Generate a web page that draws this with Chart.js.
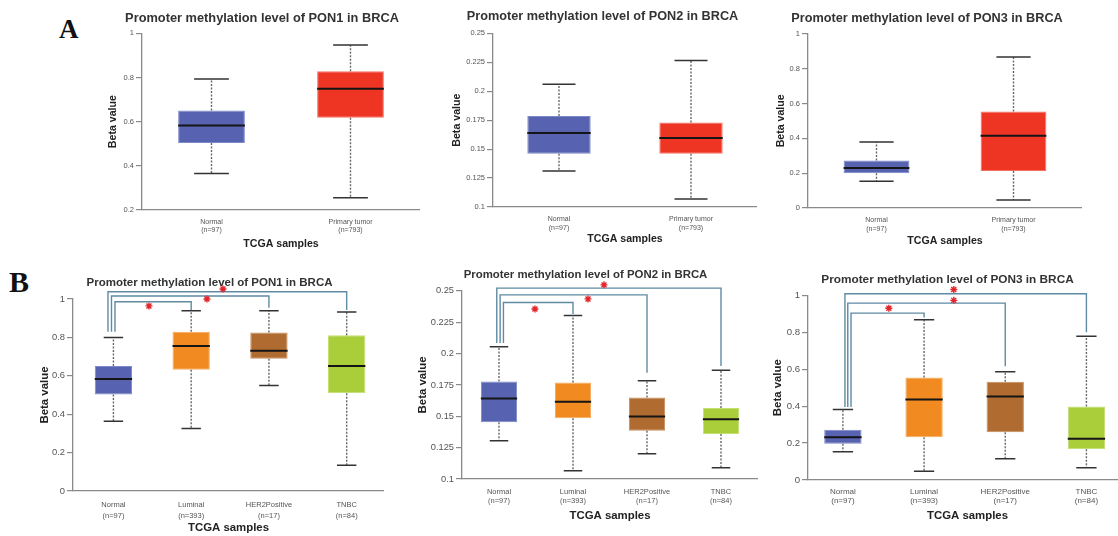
<!DOCTYPE html>
<html>
<head>
<meta charset="utf-8">
<script src="https://cdn.jsdelivr.net/npm/chart.js@4.4.1/dist/chart.umd.min.js"></script>
<style>
html, body { margin: 0; padding: 0; background: #fff; }
body { position: relative; width: 1118px; height: 536px; overflow: hidden; }
canvas { position: absolute; }
.tag { position: absolute; font-family: "Liberation Serif", "Times New Roman", serif; font-weight: bold; color: #111; line-height: 1; }
</style>
</head>
<body>
<div class="tag" style="left:59px;top:16px;font-size:27px">A</div>
<div class="tag" style="left:9px;top:267px;font-size:30px">B</div>
<canvas id="a1"></canvas>
<canvas id="a2"></canvas>
<canvas id="a3"></canvas>
<canvas id="b1"></canvas>
<canvas id="b2"></canvas>
<canvas id="b3"></canvas>
<script>
// groups and sample sizes
var groupsA = ['Normal', 'Primary tumor'];
var countsA = ['(n=97)', '(n=793)'];
var groupsB = ['Normal', 'Luminal', 'HER2Positive', 'TNBC'];
var countsB = ['(n=97)', '(n=393)', '(n=17)', '(n=84)'];

// box stats per group: [min, q1, median, q3, max]
var pon1A = [[0.365, 0.503, 0.582, 0.650, 0.793], [0.256, 0.617, 0.749, 0.828, 0.947]];
var pon2A = [[0.131, 0.146, 0.164, 0.1785, 0.206], [0.107, 0.146, 0.1597, 0.173, 0.2266]];
var pon3A = [[0.153, 0.199, 0.229, 0.272, 0.379], [0.046, 0.212, 0.415, 0.554, 0.866]];
var pon1B = [[0.363, 0.503, 0.583, 0.651, 0.799], [0.325, 0.632, 0.755, 0.830, 0.939],
             [0.549, 0.689, 0.731, 0.825, 0.939], [0.134, 0.509, 0.651, 0.811, 0.932]];
var pon2B = [[0.1305, 0.1453, 0.1641, 0.1777, 0.2055], [0.1066, 0.1485, 0.1615, 0.1769, 0.2304],
             [0.1201, 0.1384, 0.1498, 0.1649, 0.1784], [0.1090, 0.1358, 0.1477, 0.1567, 0.1867]];
var pon3B = [[0.153, 0.196, 0.231, 0.272, 0.382], [0.047, 0.232, 0.436, 0.555, 0.868],
             [0.115, 0.258, 0.452, 0.532, 0.586], [0.067, 0.166, 0.223, 0.398, 0.778]];

// y tick labels
var ticks1A = [0.2, 0.4, 0.6, 0.8, 1];
var ticks2 = [0.1, 0.125, 0.15, 0.175, 0.2, 0.225, 0.25];
var ticks01 = [0, 0.2, 0.4, 0.6, 0.8, 1];

// significance brackets Normal vs Luminal / HER2Positive / TNBC
var sig1Top = [0.986, 1.016, 1.038], sig1Drop = [0.943, 0.955, 0.943], sig1Base = [0.83, 0.83, 0.83];
var star1X = [0.457, 1.203, 1.409], star1Y = [0.964, 1.0, 1.052];
var sig2Top = [0.2407, 0.2468, 0.2522], sig2Drop = [0.2316, 0.1848, 0.1902], sig2Base = [0.2085, 0.2085, 0.2085];
var star2X = [0.486, 1.203, 1.419], star2Y = [0.2356, 0.2436, 0.2548];
var sig3Top = [0.904, 0.958, 1.009], sig3Drop = [0.88, 0.616, 0.80], sig3Base = [0.396, 0.396, 0.396];
var star3X = [0.566, 1.366, 1.366], star3Y = [0.93, 0.973, 1.032];

var fillA = ['#5763b1', '#ee3524'], edgeA = ['#7e88c6', '#f5715f'];
var fillB = ['#5763b1', '#f08a21', '#b06b31', '#a9ce3a'], edgeB = ['#7e88c6', '#f6aa5c', '#c78b5c', '#c3de72'];

Chart.defaults.font.family = '"Liberation Sans", Arial, sans-serif';

// stars sit above the plot area, so draw their points without the area check
var starPlugin = {
    id: 'stars',
    beforeDatasetDraw: function(chart, args) {
        if (chart.data.datasets[args.index].stars) return false;
    },
    afterDatasetsDraw: function(chart) {
        chart.data.datasets.forEach(function(ds, i) {
            if (!ds.stars) return;
            chart.getDatasetMeta(i).data.forEach(function(pt) { pt.draw(chart.ctx); });
        });
    }
};

function boxChart(id, box, gene, groups, counts, stats, fill, edge, yTicks, sig) {
    var cv = document.getElementById(id);
    cv.width = box.w; cv.height = box.h;
    cv.style.left = box.x + 'px'; cv.style.top = box.y + 'px';
    var half = box.bar / 2, cap = 0.125;
    var stems = [], caps = [], meds = [];
    stats.forEach(function(s, i) {
        stems.push({x: i, y: s[3]}, {x: i, y: s[4]}, {x: i, y: null}, {x: i, y: s[1]}, {x: i, y: s[0]}, {x: i, y: null});
        caps.push({x: i - cap, y: s[4]}, {x: i + cap, y: s[4]}, {x: i, y: null},
                  {x: i - cap, y: s[0]}, {x: i + cap, y: s[0]}, {x: i, y: null});
        meds.push({x: i - half, y: s[2]}, {x: i + half, y: s[2]}, {x: i, y: null});
    });
    var sets = [
        {type: 'bar', data: stats.map(function(s, i) { return {x: i, y: [s[1], s[3]]}; }),
         backgroundColor: fill, borderColor: edge, borderWidth: 1, borderSkipped: false,
         barPercentage: box.bar, categoryPercentage: 1, order: 5},
        {type: 'line', data: stems, borderColor: '#666', borderWidth: 1.4, borderDash: [2, 1.5],
         pointRadius: 0, spanGaps: false, order: 4},
        {type: 'line', data: caps, borderColor: '#333', borderWidth: 1.5, pointRadius: 0, spanGaps: false, order: 3},
        {type: 'line', data: meds, borderColor: '#151515', borderWidth: 2, pointRadius: 0, spanGaps: false, order: 2}
    ];
    if (sig) {
        var br = [], st = [];
        for (var k = 0; k < 3; k++) {
            var xl = sig.off[k];
            br.push({x: xl, y: sig.base[k]}, {x: xl, y: sig.top[k]}, {x: k + 1, y: sig.top[k]},
                    {x: k + 1, y: sig.drop[k]}, {x: 0, y: null});
            st.push({x: sig.sx[k], y: sig.sy[k]});
        }
        sets.push({type: 'line', data: br, borderColor: '#5f8ba4', borderWidth: 1.4, pointRadius: 0,
                   spanGaps: false, clip: false, order: 1});
        sets.push({type: 'line', data: st, stars: true, showLine: false, pointStyle: 'star', pointRadius: 3.5,
                   pointBorderColor: '#e3262c', pointBorderWidth: 1.4, clip: false, order: 0});
    }
    return new Chart(cv, {
        type: 'bar',
        data: {datasets: sets},
        plugins: [starPlugin],
        options: {
            responsive: false,
            animation: false,
            layout: {padding: 0, autoPadding: false},
            plugins: {
                legend: {display: false},
                tooltip: {enabled: false},
                title: {display: true, text: 'Promoter methylation level of ' + gene + ' in BRCA', color: '#333',
                        font: {size: box.tf, weight: 'bold'}, padding: {top: box.tt, bottom: box.tb}}
            },
            scales: {
                x: {
                    type: 'linear', min: box.x0, max: box.x1, offset: false,
                    afterBuildTicks: function(s) { s.ticks = groups.map(function(g, i) { return {value: i}; }); },
                    afterFit: function(s) { s.height = box.xh; },
                    grid: {display: false, drawTicks: false},
                    border: {color: '#8a8a8a', width: 1.3},
                    ticks: {autoSkip: false, maxRotation: 0, padding: box.xp, color: '#555',
                            font: {size: box.xf, lineHeight: box.xl},
                            callback: function(v) { return [groups[v], counts[v]]; }},
                    title: {display: true, text: 'TCGA samples', color: '#222',
                            font: {size: box.af, weight: 'bold'}, padding: {top: 0, bottom: 2}}
                },
                y: {
                    type: 'linear', min: yTicks[0], max: yTicks[yTicks.length - 1],
                    afterBuildTicks: function(s) { s.ticks = yTicks.map(function(v) { return {value: v}; }); },
                    afterFit: function(s) { s.width = box.yw; },
                    grid: {drawOnChartArea: false, drawTicks: true, tickLength: 6, color: '#8a8a8a', lineWidth: 1.2},
                    border: {color: '#8a8a8a', width: 1.3},
                    ticks: {padding: 2, color: '#555', font: {size: box.yf},
                            callback: function(v) { return String(v); }},
                    title: {display: true, text: 'Beta value', color: '#222',
                            font: {size: box.af, weight: 'bold'}, padding: {top: 3, bottom: 0}}
                }
            }
        }
    });
}

boxChart('a1', {x: 104, y: 0, w: 316, h: 252, yw: 38, xh: 42, x0: -0.5, x1: 1.5, bar: 0.48,
                tf: 12.8, tt: 10.3, tb: 7.6, af: 10.6, yf: 7.5, xf: 7, xl: 8 / 7, xp: 8},
         'PON1', groupsA, countsA, pon1A, fillA, edgeA, ticks1A, null);
boxChart('a2', {x: 448, y: 0, w: 309, h: 247, yw: 45, xh: 40, x0: -0.5, x1: 1.5, bar: 0.48,
                tf: 12.7, tt: 9.0, tb: 9.1, af: 10.6, yf: 7.5, xf: 7, xl: 9 / 7, xp: 7.5},
         'PON2', groupsA, countsA, pon2A, fillA, edgeA, ticks2, null);
boxChart('a3', {x: 772, y: 0, w: 310, h: 249, yw: 36, xh: 41, x0: -0.5, x1: 1.5, bar: 0.48,
                tf: 12.7, tt: 10.6, tb: 7.9, af: 10.6, yf: 7.5, xf: 7, xl: 9 / 7, xp: 7.5},
         'PON3', groupsA, countsA, pon3A, fillA, edgeA, ticks01, null);
boxChart('b1', {x: 35, y: 262, w: 349, h: 275, yw: 38, xh: 46, x0: -0.52, x1: 3.48, bar: 0.48,
                tf: 11.5, tt: 14.1, tb: 9.1, af: 11.4, yf: 9.4, xf: 7.5, xl: 11 / 7.5, xp: 8.5},
         'PON1', groupsB, countsB, pon1B, fillB, edgeB, ticks01,
         {top: sig1Top, drop: sig1Drop, base: sig1Base, off: [0.02, -0.025, -0.07], sx: star1X, sy: star1Y});
boxChart('b2', {x: 413, y: 262, w: 345, h: 263, yw: 49, xh: 46, x0: -0.5, x1: 3.5, bar: 0.49,
                tf: 11.4, tt: 6.1, tb: 9.1, af: 11.4, yf: 9.3, xf: 7.5, xl: 9 / 7.5, xp: 8.5},
         'PON2', groupsB, countsB, pon2B, fillB, edgeB, ticks2,
         {top: sig2Top, drop: sig2Drop, base: sig2Base, off: [0.06, 0.015, -0.03], sx: star2X, sy: star2Y});
boxChart('b3', {x: 768, y: 262, w: 359, h: 263, yw: 40, xh: 45, x0: -0.43, x1: 3.5, bar: 0.46,
                tf: 11.8, tt: 11.1, tb: 8.1, af: 11.4, yf: 9.6, xf: 8, xl: 9 / 8, xp: 7.5},
         'PON3', groupsB, countsB, pon3B, fillB, edgeB, ticks01,
         {top: sig3Top, drop: sig3Drop, base: sig3Base, off: [0.1, 0.06, 0.025], sx: star3X, sy: star3Y});
</script>
</body>
</html>
